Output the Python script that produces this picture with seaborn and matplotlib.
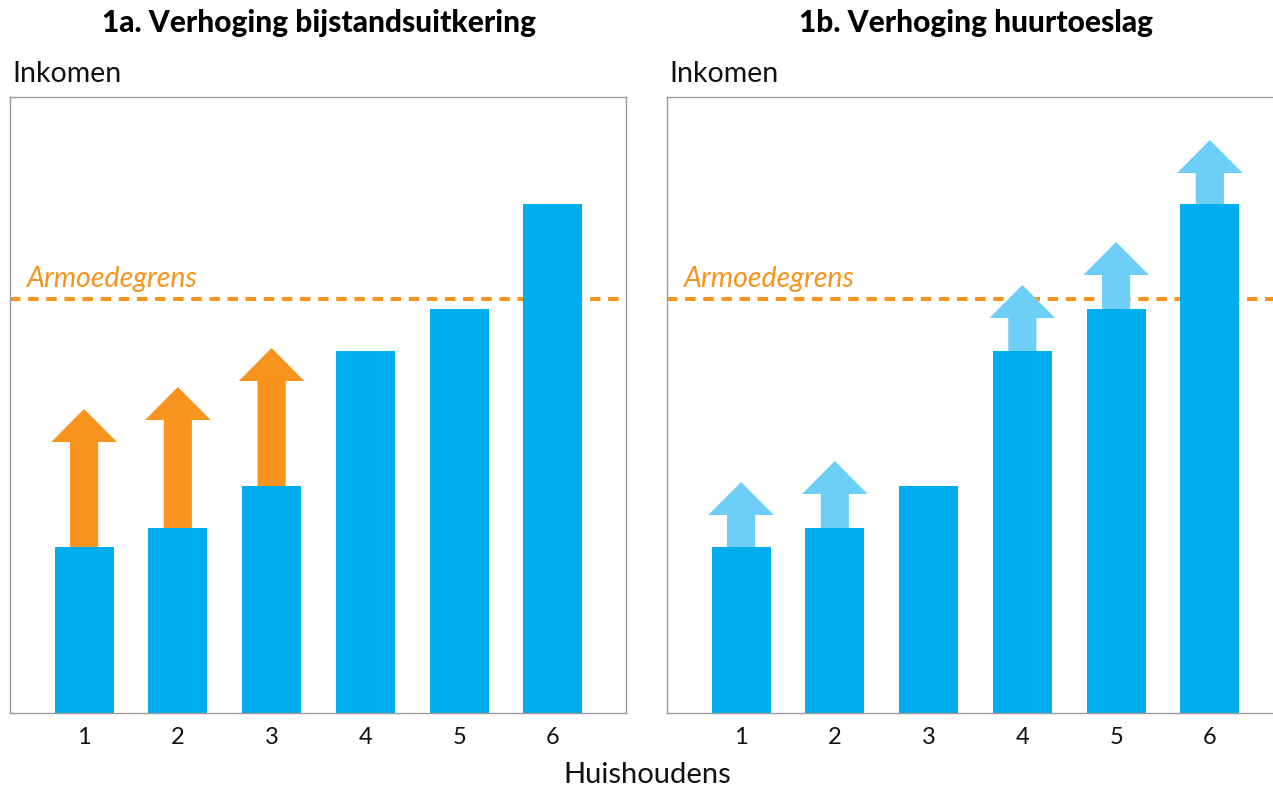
import matplotlib
matplotlib.use("Agg")
import matplotlib.pyplot as plt
from matplotlib.patches import FancyArrow
import seaborn as sns
import pandas as pd

# ---- data ----
households = ["1", "2", "3", "4", "5", "6"]
inkomen = [166, 185, 227, 362, 404, 509]
armoedegrens = 414
verhoging_bijstand = [138, 141, 138, 0, 0, 0]
verhoging_huurtoeslag = [65, 67, 0, 66, 67, 64]
titles = ["1a. Verhoging bijstandsuitkering", "1b. Verhoging huurtoeslag"]
y_label = "Inkomen"
x_label = "Huishoudens"
line_label = "Armoedegrens"

BLUE = "#00AEEF"
ORANGE = "#F7941D"
LIGHTBLUE = "#6DCFF6"
SPINE = "#9a9a9a"

sns.set_theme(style="white")
plt.rcParams["font.family"] = ["Lato", "DejaVu Sans"]

W, H = 1273, 787
fig = plt.figure(figsize=(W / 100, H / 100), dpi=100)

df = pd.DataFrame({"huishouden": households, "inkomen": inkomen})

ax_w = 616 / W
ax_h = 616 / H
ax_b = (H - 713) / H
lefts = [10 / W, 667 / W]
increases = [verhoging_bijstand, verhoging_huurtoeslag]
arrow_colors = [ORANGE, LIGHTBLUE]

for i in range(2):
    ax = fig.add_axes([lefts[i], ax_b, ax_w, ax_h])
    ax.axhline(armoedegrens, color=ORANGE, lw=2.9, ls=(0, (2.6, 1.9)), zorder=1)
    sns.barplot(data=df, x="huishouden", y="inkomen", ax=ax, color=BLUE,
                saturation=1, width=0.63, zorder=2, linewidth=0)
    for j, (base, inc) in enumerate(zip(inkomen, increases[i])):
        if inc > 0:
            ax.add_patch(FancyArrow(j, base, 0, inc, width=0.30, head_width=0.70,
                                    head_length=33, length_includes_head=True,
                                    color=arrow_colors[i], lw=0, zorder=3))
    ax.set_xlim(-0.79, 5.78)
    ax.set_ylim(0, 616)
    ax.set_yticks([])
    ax.set_xlabel("")
    ax.set_ylabel("")
    ax.tick_params(axis="x", length=0, pad=10, labelsize=17, colors="#111111")
    for s in ax.spines.values():
        s.set_visible(True)
        s.set_color(SPINE)
        s.set_linewidth(1.0)
    ax.annotate(y_label, xy=(0, 1), xycoords="axes fraction", xytext=(1.5, 11),
                textcoords="offset points", ha="left", va="baseline",
                fontsize=20.5, color="#111111")
    ax.text(0.027, armoedegrens + 7, line_label, transform=ax.get_yaxis_transform(),
            ha="left", va="bottom", fontsize=20.5, style="italic", color=ORANGE)
    fig.text(lefts[i] + ax_w / 2 + 1 / W, 1 - 32 / H, titles[i], ha="center",
             va="baseline", fontsize=21.5, fontweight="black", color="black")

fig.text(647 / W, 1 - 783 / H, x_label, ha="center", va="baseline",
         fontsize=21, color="#111111")

fig.savefig("out.png", dpi=100)
